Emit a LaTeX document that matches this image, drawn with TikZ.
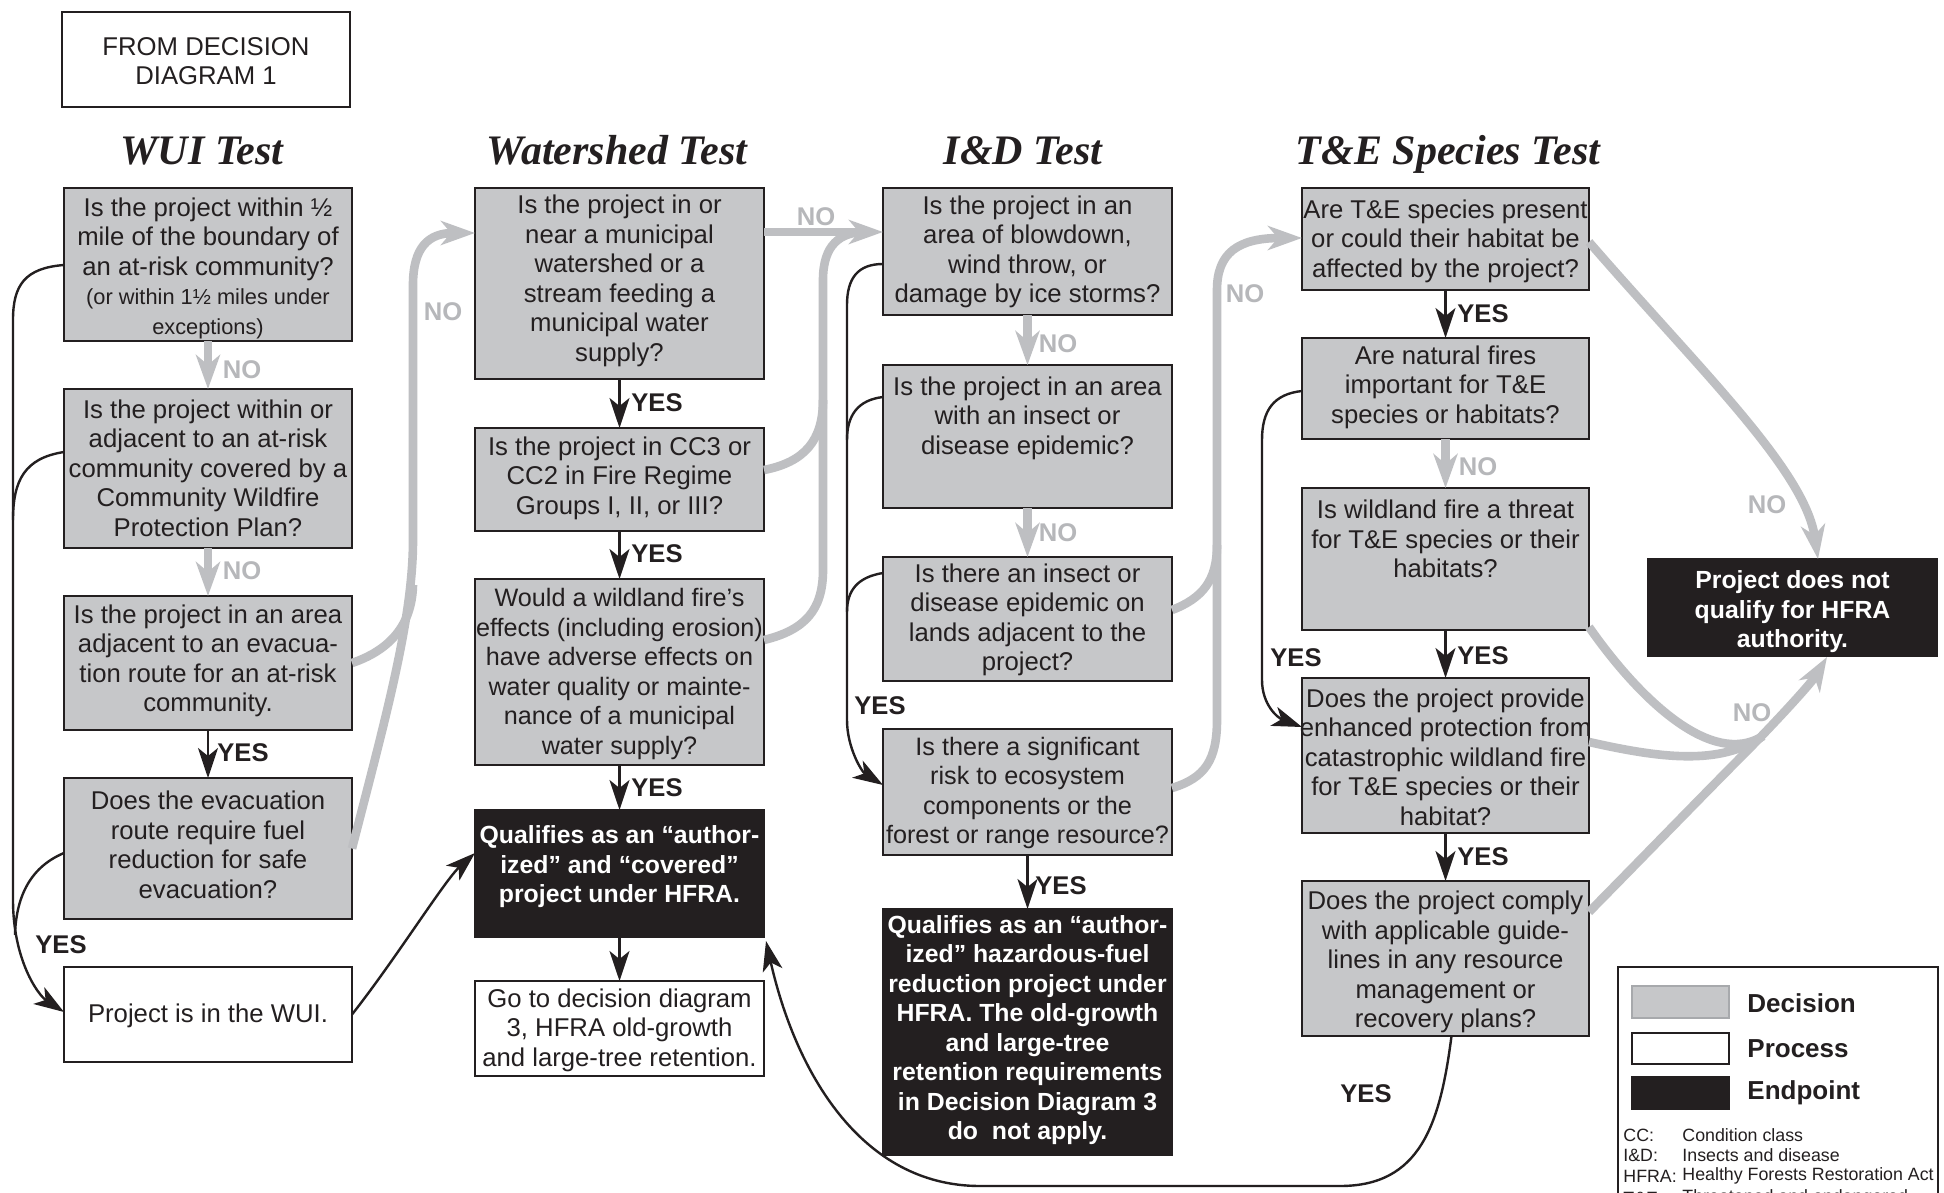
\documentclass[tikz,border=0pt]{standalone}
\usepackage{fontspec}
\setmainfont{Liberation Sans}
\newfontfamily\serifbi{Liberation Serif}
\usetikzlibrary{arrows.meta,calc}

\definecolor{boxgray}{HTML}{C6C7C9}
\definecolor{linegray}{HTML}{BEBFC2}
\definecolor{nogray}{HTML}{B6B7BA}
\definecolor{ink}{HTML}{231F20}
\definecolor{swgray}{HTML}{A7A9AC}

\newcommand\bxfont{\fontsize{12.85pt}{14.75pt}\selectfont}
\newcommand\bxfontn{\fontsize{12.6pt}{14.75pt}\selectfont}
\newcommand\smallbx{\fontsize{10.9pt}{14.5pt}\selectfont}
\newcommand\blkfont{\bfseries\fontsize{12.4pt}{14.75pt}\selectfont}
\newcommand\lblfont{\bfseries\fontsize{12.8pt}{14pt}\selectfont}
\newcommand\ttlfont{\serifbi\bfseries\itshape\fontsize{21pt}{24pt}\selectfont}
\newcommand\legfont{\bfseries\fontsize{13pt}{15pt}\selectfont}
\newcommand\abfont{\fontsize{8.9pt}{10pt}\selectfont}

\tikzset{
  decision/.style={draw=ink, line width=1pt, fill=boxgray, inner sep=0pt, outer sep=0pt},
  decision text/.style={font=\bxfont, text=ink, align=center, inner sep=0pt},
  decnarrow/.style={decision},
  decnarrow text/.style={font=\bxfontn, text=ink, align=center, inner sep=0pt},
  process/.style={draw=ink, line width=1pt, fill=white, inner sep=0pt, outer sep=0pt},
  process text/.style={font=\bxfont, text=ink, align=center, inner sep=0pt},
  endpoint/.style={draw=ink, line width=1pt, fill=ink, inner sep=0pt, outer sep=0pt},
  endpoint text/.style={font=\blkfont, text=white, align=center, inner sep=0pt},
  grayline/.style={draw=linegray, line width=4.3pt},
  grayarrow/.style={grayline, -{Stealth[length=17pt,width=12pt,inset=5pt]}},
  blkline/.style={draw=ink, line width=1.2pt},
  blkarrow/.style={blkline, -{Stealth[length=15pt,width=10pt,inset=4pt]}},
  nolab/.style={font=\lblfont, text=nogray, inner sep=0pt},
  yeslab/.style={font=\lblfont, text=ink, inner sep=0pt},
  ttl/.style={font=\ttlfont, text=ink, inner sep=0pt, anchor=base},
  abbr/.style={font=\abfont, text=ink, inner sep=0pt, anchor=west},
}

% name, x1, y1, x2, y2, text-centre y, style, text
\newcommand\qbox[8]{%
  \node[#7, minimum width={(#4-#2)*0.5pt}, minimum height={(#5-#3)*0.5pt}] (#1) at ({(#2+#4)/2},{(#3+#5)/2}) {};
  \node[#7 text] (#1t) at ({(#2+#4)/2},#6) {#8};}

\begin{document}
\begin{tikzpicture}[x=0.5pt,y=-0.5pt]
\useasboundingbox (0,0) rectangle (1944,1193);
\fill[white] (0,0) rectangle (1944,1193);

% ---------- titles
\qbox{FD}{62}{12}{350}{107}{61}{process}{FROM DECISION\\DIAGRAM 1}
\node[ttl] (ttlA) at (202,164) {WUI Test};
\node[ttl] (ttlB) at (617,164) {Watershed Test};
\node[ttl] (ttlC) at (1023,164) {I\&D Test};
\node[ttl] (ttlD) at (1448,164) {T\&E Species Test};

% ---------- WUI column
\qbox{B1}{64}{188}{352}{341}{268}{decision}{Is the project within ½\\mile of the boundary of\\an at-risk community?\\{\smallbx (or within 1½ miles under}\\{\smallbx exceptions)}}
\qbox{B2}{64}{389}{352}{548}{468}{decision}{Is the project within or\\adjacent to an at-risk\\community covered by a\\Community Wildfire\\Protection Plan?}
\qbox{B3}{64}{596}{352}{730}{661}{decision}{Is the project in an area\\adjacent to an evacua-\\tion route for an at-risk\\community.}
\qbox{B4}{64}{778}{352}{919}{845}{decision}{Does the evacuation\\route require fuel\\reduction for safe\\evacuation?}
\qbox{P}{64}{967}{352}{1062}{1016}{process}{Project is in the WUI.}

% ---------- Watershed column
\qbox{W1}{475}{188}{764}{379}{281}{decision}{Is the project in or\\near a municipal\\watershed or a\\stream feeding a\\municipal water\\supply?}
\qbox{W2}{475}{428}{764}{531}{478}{decision}{Is the project in CC3 or\\CC2 in Fire Regime\\Groups I, II, or III?}
\qbox{W3}{475}{579}{764}{765}{674}{decnarrow}{Would a wildland fire’s\\effects (including erosion)\\have adverse effects on\\water quality or mainte-\\nance of a municipal\\water supply?}
\qbox{Q1}{475}{810}{764}{937}{867}{endpoint}{Qualifies as an “author-\\ized” and “covered”\\project under HFRA.}
\qbox{G}{475}{981}{764}{1076}{1030}{process}{Go to decision diagram\\3, HFRA old-growth\\and large-tree retention.}

% ---------- I&D column
\qbox{I1}{883}{188}{1172}{315}{252}{decision}{Is the project in an\\area of blowdown,\\wind throw, or\\damage by ice storms?}
\qbox{I2}{883}{365}{1172}{508}{418}{decision}{Is the project in an area\\with an insect or\\disease epidemic?}
\qbox{I3}{883}{557}{1172}{681}{620}{decision}{Is there an insect or\\disease epidemic on\\lands adjacent to the\\project?}
\qbox{I4}{883}{729}{1172}{855}{793}{decnarrow}{Is there a significant\\risk to ecosystem\\components or the\\forest or range resource?}
\qbox{Q2}{883}{909}{1172}{1155}{1030}{endpoint}{Qualifies as an “author-\\ized” hazardous-fuel\\reduction project under\\HFRA. The old-growth\\and large-tree\\retention requirements\\in Decision Diagram 3\\do\ \ not apply.}

% ---------- T&E column
\qbox{T1}{1302}{188}{1589}{290}{241}{decision}{Are T\&E species present\\or could their habitat be\\affected by the project?}
\qbox{T2}{1302}{338}{1589}{439}{387}{decision}{Are natural fires\\important for T\&E\\species or habitats?}
\qbox{T3}{1302}{488}{1589}{630}{539}{decision}{Is wildland fire a threat\\for T\&E species or their\\habitats?}
\qbox{T4}{1302}{678}{1589}{833}{757}{decision}{Does the project provide\\enhanced protection from\\catastrophic wildland fire\\for T\&E species or their\\habitat?}
\qbox{T5}{1302}{881}{1589}{1036}{962}{decision}{Does the project comply\\with applicable guide-\\lines in any resource\\management or\\recovery plans?}
\qbox{NQ}{1648}{559}{1937}{656}{612}{endpoint}{Project does not\\qualify for HFRA\\authority.}

% ---------- WUI connectors
\draw[grayarrow] (B1.south) -- (B2.north);
\draw[grayarrow] (B2.south) -- (B3.north);
\draw[blkarrow] (B3.south) -- (B4.north);
\draw[grayline] (B3.east) .. controls (390,650) and (412,625) .. (413,585);
\draw[grayarrow] (B4.east) .. controls (385,720) and (413,620) .. (413,540) -- (413,285) .. controls (413,248) and (428,233) .. ($(W1.north west)+(0,45)$);
\draw[blkarrow] ($(B1.north west)+(0,77)$) .. controls (25,268) and (13,285) .. (13,320) -- (13,900) .. controls (13,960) and (38,995) .. ($(P.north west)+(0,45)$);
\draw[blkline] ($(B2.north west)+(0,63)$) .. controls (25,458) and (13,480) .. (13,520);
\draw[blkline] ($(B4.north west)+(0,75)$) .. controls (28,868) and (16,900) .. (15,935);
\draw[blkarrow] (P.east) .. controls (395,960) and (445,880) .. ($(Q1.north west)+(0,43)$);

% ---------- Watershed connectors
\draw[blkarrow] (W1.south) -- (W2.north);
\draw[blkarrow] (W2.south) -- (W3.north);
\draw[blkarrow] (W3.south) -- (Q1.north);
\draw[blkarrow] (Q1.south) -- (G.north);
\draw[grayline] ($(W2.north east)+(0,42)$) .. controls (805,462) and (823,440) .. (823,400);
\draw[grayline] ($(W3.north east)+(0,61)$) .. controls (805,630) and (823,610) .. (823,570) -- (823,280) .. controls (823,245) and (840,232) .. ($(I1.north west)+(-18,44)$);
\draw[grayarrow] ($(W1.north east)+(0,44)$) -- ($(I1.north west)+(0,44)$);

% ---------- I&D connectors
\draw[grayarrow] (I1.south) -- (I2.north);
\draw[grayarrow] (I2.south) -- (I3.north);
\draw[blkarrow] (I4.south) -- (Q2.north);
\draw[blkarrow] ($(I1.north west)+(0,76)$) .. controls (858,264) and (847,278) .. (847,305) -- (847,720) .. controls (847,748) and (862,772) .. ($(I4.north west)+(0,56)$);
\draw[blkline] ($(I2.north west)+(0,32)$) .. controls (858,400) and (847,415) .. (847,440);
\draw[blkline] ($(I3.north west)+(0,16)$) .. controls (858,577) and (847,590) .. (847,612);
\draw[grayline] ($(I3.north east)+(0,53)$) .. controls (1203,598) and (1217,580) .. (1217,545);
\draw[grayarrow] ($(I4.north east)+(0,59)$) .. controls (1205,778) and (1217,760) .. (1217,720) -- (1217,290) .. controls (1217,253) and (1238,238) .. ($(T1.north west)+(0,50)$);

% ---------- T&E connectors
\draw[blkarrow] (T1.south) -- (T2.north);
\draw[grayarrow] (T2.south) -- (T3.north);
\draw[blkarrow] (T3.south) -- (T4.north);
\draw[blkarrow] (T4.south) -- (T5.north);
\draw[blkarrow] ($(T2.north west)+(0,53)$) .. controls (1274,394) and (1262,410) .. (1262,440) -- (1262,680) .. controls (1262,705) and (1278,718) .. ($(T4.north west)+(0,49)$);
\draw[grayarrow] ($(T1.north east)+(0,54)$) .. controls (1700,370) and (1805,470) .. ($(NQ.north west)+(170,0)$);
\draw[grayline] ($(T3.south east)+(0,-3)$) .. controls (1640,700) and (1712,768) .. (1763,736);
\draw[grayline] ($(T4.north east)+(0,64)$) .. controls (1660,758) and (1720,766) .. (1763,736);
\draw[grayarrow] ($(T5.north east)+(0,31)$) .. controls (1650,850) and (1712,786) .. (1750,748) .. controls (1785,712) and (1812,682) .. ($(NQ.south west)+(179,1)$);
\draw[blkarrow] ($(T5.south)+(6,0)$) .. controls (1440,1125) and (1420,1186) .. (1340,1186) -- (980,1186) .. controls (860,1186) and (795,1070) .. ($(Q1.south east)+(2,4)$);

% ---------- labels
\node[nolab] (n1) at (242,370) {NO};
\node[nolab] (n2) at (242,571) {NO};
\node[nolab] (n3) at (443,312) {NO};
\node[nolab] (n4) at (816,217) {NO};
\node[nolab] (n5) at (1058,344) {NO};
\node[nolab] (n6) at (1058,533) {NO};
\node[nolab] (n7) at (1245,294) {NO};
\node[nolab] (n8) at (1478,467) {NO};
\node[nolab] (n9) at (1767,505) {NO};
\node[nolab] (n10) at (1752,713) {NO};

\node[yeslab] (y1) at (243,753) {YES};
\node[yeslab] (y2) at (61,945) {YES};
\node[yeslab] (y3) at (657,403) {YES};
\node[yeslab] (y4) at (657,554) {YES};
\node[yeslab] (y5) at (657,788) {YES};
\node[yeslab] (y6) at (880,706) {YES};
\node[yeslab] (y7) at (1061,886) {YES};
\node[yeslab] (y8) at (1483,314) {YES};
\node[yeslab] (y9) at (1483,656) {YES};
\node[yeslab] (y10) at (1483,857) {YES};
\node[yeslab] (y11) at (1296,658) {YES};
\node[yeslab] (y12) at (1366,1094) {YES};

% ---------- legend
\node[draw=ink, line width=0.8pt, fill=white, minimum width=160pt, minimum height=140pt, anchor=north west, inner sep=0pt] (legend) at (1617,966) {};
\node[decision, draw=swgray, minimum width=48.5pt, minimum height=16pt] (lgD) at (1680.5,1002) {};
\node[process, minimum width=48.5pt, minimum height=15.5pt] (lgP) at (1680.5,1048.5) {};
\node[endpoint, minimum width=48.5pt, minimum height=16pt] (lgE) at (1680.5,1093) {};
\node[font=\legfont, text=ink, anchor=west, inner sep=0pt] (lgDt) at (1747,1003) {Decision};
\node[font=\legfont, text=ink, anchor=west, inner sep=0pt] (lgPt) at (1747,1049) {Process};
\node[font=\legfont, text=ink, anchor=west, inner sep=0pt] (lgEt) at (1747,1093) {Endpoint};
\node[abbr] (ab1) at (1623,1135) {CC:};
\node[abbr] (ab1d) at (1682,1135) {Condition class};
\node[abbr] (ab2) at (1623,1155.5) {I\&D:};
\node[abbr] (ab2d) at (1682,1155.5) {Insects and disease};
\node[abbr] (ab3) at (1623,1176) {HFRA:};
\node[abbr] (ab3d) at (1682,1176) {Healthy Forests Restoration Act};
\node[abbr] (ab4) at (1623,1198) {T\&E:};
\node[abbr] (ab4d) at (1682,1198) {Threatened and endangered};
\end{tikzpicture}
\end{document}
